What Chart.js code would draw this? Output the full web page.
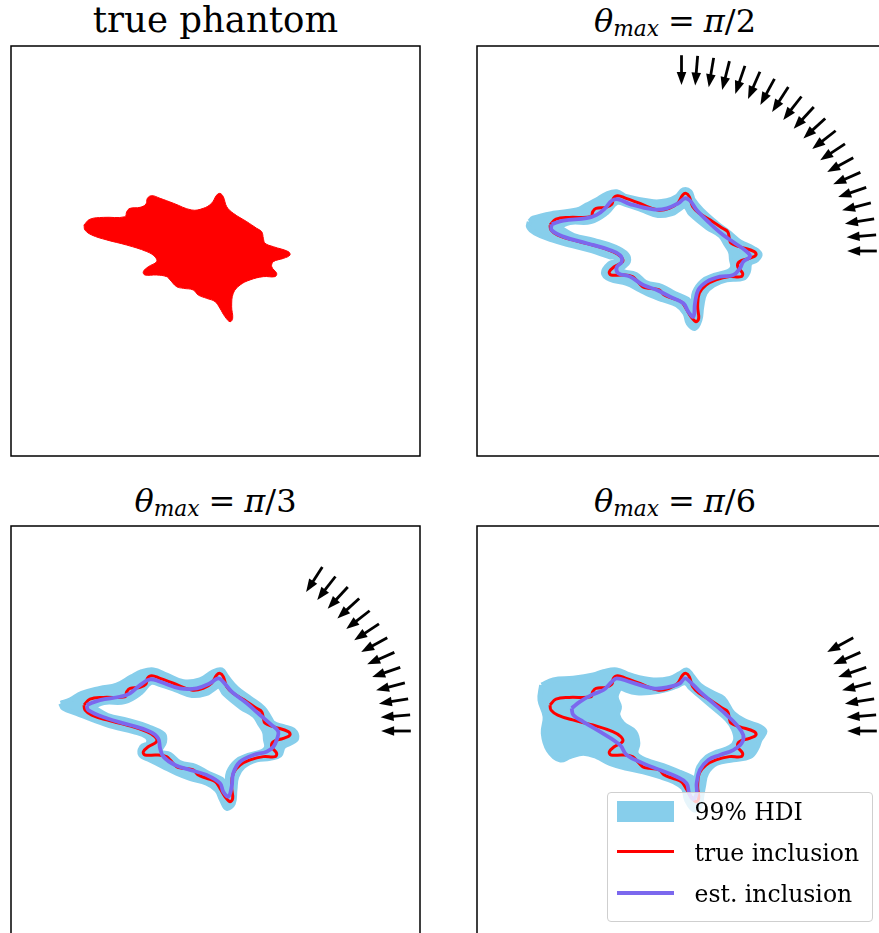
<!DOCTYPE html>
<html>
<head>
<meta charset="utf-8">
<script src="https://cdn.jsdelivr.net/npm/chart.js@4.4.1/dist/chart.umd.min.js"></script>
<style>
  html, body { margin: 0; padding: 0; background: #fff; width: 879px; height: 933px; overflow: hidden; position: relative; }
  canvas { position: absolute; }
  .title { position: absolute; width: 400px; text-align: center; font-family: "DejaVu Serif", serif; color: #000; white-space: nowrap; line-height: 40px; }
  .title.big { font-size: 35.5px; }
  .title.th { font-size: 32px; }
  .title i { font-style: italic; }
  .title .sub { font-size: 0.68em; font-style: italic; vertical-align: -0.2em; line-height: 0; }
  .title .eq { margin: 0 0.28em; }
  #legend { position: absolute; left: 607px; top: 792px; width: 266px; height: 130px; box-sizing: border-box;
            border: 1.5px solid #cfcfcf; border-radius: 4px; background: rgba(255,255,255,0.8); }
  #legend .sw { position: absolute; left: 8.5px; width: 57px; }
  #legend .lb { position: absolute; left: 86.5px; font-family: "DejaVu Serif", serif; font-size: 23.5px; line-height: 28px; color: #000; white-space: nowrap; }
</style>
</head>
<body>
<div class="title big" style="left:15.5px; top:0px;">true phantom</div>
<div class="title th" style="left:475px; top:1px;"><i>θ</i><span class="sub">max</span><span class="eq">=</span><i>π</i>/2</div>
<div class="title th" style="left:15.5px; top:481px;"><i>θ</i><span class="sub">max</span><span class="eq">=</span><i>π</i>/3</div>
<div class="title th" style="left:475px; top:481px;"><i>θ</i><span class="sub">max</span><span class="eq">=</span><i>π</i>/6</div>

<canvas id="p1" width="413" height="414" style="left:9px; top:44px;"></canvas>
<canvas id="p2" width="413" height="414" style="left:475px; top:44px;"></canvas>
<canvas id="p3" width="413" height="414" style="left:9px; top:524px;"></canvas>
<canvas id="p4" width="413" height="414" style="left:475px; top:524px;"></canvas>

<div id="legend">
  <div class="sw" style="top:7.5px; height:21px; background:#87ceeb;"></div>
  <div class="lb" style="top:5.4px;">99% HDI</div>
  <div class="sw" style="top:56.5px; height:3.4px; background:#ff0000;"></div>
  <div class="lb" style="top:45.9px;">true inclusion</div>
  <div class="sw" style="top:97.8px; height:4px; background:#7b68ee;"></div>
  <div class="lb" style="top:86.9px;">est. inclusion</div>
</div>

<script>
// True inclusion boundary (closed contour, domain [-1, 1] x [-1, 1])
const trueX = [-0.643,-0.614,-0.549,-0.443,-0.434,-0.418,-0.369,-0.340,-0.333,-0.312,-0.271,-0.206,-0.116,-0.060,-0.019,0.006,0.022,0.038,0.055,0.087,0.153,0.201,0.226,0.234,0.242,0.283,0.356,0.364,0.332,0.283,0.275,0.299,0.291,0.234,0.169,0.120,0.087,0.079,0.084,0.071,0.046,0.022,-0.002,-0.043,-0.084,-0.109,-0.157,-0.190,-0.222,-0.239,-0.288,-0.345,-0.353,-0.329,-0.288,-0.296,-0.336,-0.434,-0.532,-0.605,-0.638];
const trueY = [0.127,0.155,0.164,0.167,0.192,0.208,0.213,0.229,0.257,0.270,0.257,0.233,0.200,0.208,0.233,0.273,0.281,0.265,0.216,0.184,0.143,0.111,0.094,0.062,0.038,0.021,-0.003,-0.020,-0.036,-0.052,-0.077,-0.109,-0.125,-0.125,-0.141,-0.166,-0.206,-0.272,-0.328,-0.345,-0.320,-0.280,-0.247,-0.231,-0.215,-0.190,-0.182,-0.174,-0.141,-0.125,-0.117,-0.117,-0.101,-0.077,-0.052,-0.028,-0.003,0.029,0.054,0.078,0.102];

// theta_max = pi/2
const est2X = [-0.635,-0.578,-0.464,-0.415,-0.374,-0.341,-0.309,-0.252,-0.138,-0.072,-0.016,0.017,0.042,0.074,0.139,0.204,0.262,0.319,0.335,0.302,0.286,0.253,0.188,0.123,0.082,0.066,0.058,0.033,0.009,-0.056,-0.121,-0.187,-0.252,-0.309,-0.317,-0.292,-0.301,-0.350,-0.464,-0.578,-0.635];
const est2Y = [0.130,0.148,0.160,0.176,0.208,0.245,0.252,0.229,0.203,0.208,0.233,0.257,0.245,0.200,0.135,0.078,0.038,-0.003,-0.028,-0.052,-0.084,-0.117,-0.125,-0.150,-0.190,-0.255,-0.320,-0.296,-0.255,-0.223,-0.190,-0.166,-0.125,-0.109,-0.080,-0.052,-0.020,0.005,0.038,0.070,0.102];
const hdiOuter2X = [-0.744,-0.725,-0.627,-0.512,-0.464,-0.415,-0.366,-0.317,-0.268,-0.138,-0.072,-0.023,0.009,0.042,0.058,0.099,0.172,0.237,0.286,0.351,0.384,0.368,0.335,0.327,0.302,0.221,0.156,0.115,0.099,0.090,0.066,0.033,0.017,-0.023,-0.089,-0.154,-0.203,-0.268,-0.350,-0.382,-0.352,-0.314,-0.325,-0.350,-0.440,-0.535,-0.633,-0.716,-0.748];
const hdiOuter2Y = [0.143,0.160,0.184,0.200,0.224,0.249,0.278,0.289,0.265,0.240,0.245,0.265,0.298,0.289,0.249,0.200,0.135,0.086,0.045,0.013,-0.015,-0.044,-0.060,-0.101,-0.133,-0.141,-0.166,-0.206,-0.272,-0.337,-0.377,-0.353,-0.304,-0.263,-0.239,-0.215,-0.190,-0.158,-0.138,-0.107,-0.062,-0.047,-0.030,-0.028,0.002,0.026,0.054,0.088,0.118];
const hdiInner2X = [-0.594,-0.545,-0.443,-0.364,-0.315,-0.271,-0.198,-0.115,-0.046,-0.012,0.017,0.042,0.125,0.188,0.213,0.237,0.242,0.247,0.227,0.159,0.100,0.061,0.051,0.032,-0.032,-0.095,-0.174,-0.222,-0.291,-0.258,-0.266,-0.330,-0.428,-0.526];
const hdiInner2Y = [0.117,0.137,0.141,0.185,0.234,0.224,0.200,0.171,0.180,0.200,0.215,0.180,0.112,0.073,0.034,-0.005,-0.044,-0.078,-0.098,-0.117,-0.146,-0.200,-0.263,-0.234,-0.205,-0.171,-0.151,-0.112,-0.093,-0.054,-0.015,0.024,0.054,0.078];
const angles2 = [0, 4.74, 9.47, 14.21, 18.95, 23.68, 28.42, 33.16, 37.89, 42.63, 47.37, 52.11, 56.84, 61.58, 66.32, 71.05, 75.79, 80.53, 85.26, 90];

// theta_max = pi/3
const est3X = [-0.630,-0.565,-0.467,-0.418,-0.369,-0.320,-0.271,-0.174,-0.092,-0.027,0.014,0.038,0.079,0.153,0.218,0.275,0.307,0.299,0.283,0.250,0.185,0.120,0.087,0.079,0.063,0.038,0.022,-0.043,-0.125,-0.198,-0.255,-0.271,-0.280,-0.320,-0.418,-0.532,-0.622];
const est3Y = [0.127,0.151,0.167,0.184,0.224,0.252,0.240,0.208,0.208,0.233,0.257,0.240,0.192,0.135,0.078,0.029,-0.003,-0.044,-0.077,-0.101,-0.117,-0.150,-0.206,-0.272,-0.320,-0.296,-0.255,-0.215,-0.190,-0.166,-0.125,-0.084,-0.036,-0.003,0.029,0.062,0.102];
const hdiOuter3X = [-0.757,-0.711,-0.654,-0.565,-0.483,-0.410,-0.361,-0.304,-0.239,-0.157,-0.076,-0.011,0.030,0.055,0.104,0.169,0.234,0.267,0.283,0.332,0.380,0.397,0.364,0.332,0.315,0.267,0.201,0.136,0.104,0.095,0.087,0.055,0.030,0.006,-0.043,-0.125,-0.190,-0.255,-0.320,-0.366,-0.361,-0.329,-0.336,-0.402,-0.500,-0.598,-0.679,-0.744];
const hdiOuter3Y = [0.135,0.151,0.184,0.208,0.224,0.265,0.289,0.298,0.273,0.240,0.249,0.289,0.298,0.265,0.208,0.160,0.111,0.062,0.038,0.021,0.005,-0.036,-0.060,-0.077,-0.117,-0.133,-0.141,-0.174,-0.223,-0.288,-0.353,-0.377,-0.337,-0.288,-0.255,-0.231,-0.206,-0.174,-0.141,-0.117,-0.077,-0.060,-0.028,-0.003,0.021,0.054,0.086,0.111];
const hdiInner3X = [-0.594,-0.545,-0.443,-0.364,-0.315,-0.271,-0.198,-0.115,-0.046,-0.012,0.017,0.042,0.125,0.188,0.213,0.237,0.242,0.247,0.227,0.159,0.100,0.061,0.051,0.032,-0.032,-0.095,-0.174,-0.222,-0.267,-0.247,-0.252,-0.330,-0.428,-0.526];
const hdiInner3Y = [0.117,0.137,0.141,0.185,0.234,0.224,0.200,0.171,0.180,0.200,0.215,0.180,0.112,0.073,0.034,-0.005,-0.044,-0.078,-0.098,-0.117,-0.146,-0.200,-0.263,-0.234,-0.205,-0.171,-0.151,-0.112,-0.098,-0.054,-0.015,0.024,0.054,0.078];
const angles3 = [0, 4.74, 9.47, 14.21, 18.95, 23.68, 28.42, 33.16, 37.89, 42.63, 47.37, 52.11, 56.84];

// theta_max = pi/6
const est4X = [-0.537,-0.496,-0.439,-0.382,-0.341,-0.317,-0.252,-0.138,-0.056,-0.007,0.017,0.042,0.090,0.156,0.221,0.270,0.302,0.294,0.253,0.188,0.131,0.090,0.074,0.074,0.056,0.037,0.025,-0.023,-0.105,-0.187,-0.268,-0.301,-0.399,-0.480,-0.529];
const est4Y = [0.111,0.143,0.176,0.200,0.240,0.257,0.240,0.208,0.216,0.233,0.257,0.240,0.192,0.135,0.078,0.029,-0.020,-0.060,-0.093,-0.117,-0.141,-0.190,-0.255,-0.304,-0.332,-0.302,-0.255,-0.223,-0.190,-0.158,-0.117,-0.068,-0.003,0.045,0.078];
const hdiOuter4X = [-0.684,-0.627,-0.529,-0.431,-0.382,-0.317,-0.252,-0.138,-0.056,-0.007,0.025,0.050,0.090,0.156,0.204,0.253,0.319,0.384,0.408,0.384,0.368,0.335,0.253,0.172,0.123,0.107,0.099,0.090,0.061,0.025,0.009,-0.040,-0.105,-0.187,-0.268,-0.350,-0.415,-0.480,-0.545,-0.594,-0.651,-0.676,-0.667,-0.692];
const hdiOuter4Y = [0.224,0.249,0.257,0.273,0.289,0.298,0.273,0.249,0.257,0.281,0.298,0.273,0.224,0.184,0.160,0.086,0.045,0.021,-0.003,-0.044,-0.084,-0.125,-0.141,-0.158,-0.206,-0.272,-0.320,-0.366,-0.385,-0.337,-0.280,-0.247,-0.223,-0.199,-0.182,-0.158,-0.125,-0.109,-0.125,-0.141,-0.093,-0.011,0.070,0.151];
const hdiInner4X = [-0.301,-0.219,-0.105,-0.023,0.017,0.042,0.090,0.156,0.221,0.253,0.262,0.237,0.172,0.123,0.082,0.066,0.050,-0.007,-0.089,-0.170,-0.219,-0.211,-0.227,-0.285,-0.309,-0.301,-0.317];
const hdiInner4Y = [0.208,0.184,0.192,0.216,0.233,0.208,0.167,0.111,0.054,0.005,-0.044,-0.077,-0.101,-0.125,-0.174,-0.231,-0.223,-0.199,-0.166,-0.141,-0.109,-0.060,-0.003,0.038,0.078,0.119,0.167];
const angles4 = [0, 4.74, 9.47, 14.21, 18.95, 23.68, 28.42];

const COLORS = { hdi: '#87ceeb', truth: '#ff0000', est: '#7b68ee' };

// Closed contour as {x, y} points (first point repeated at the end)
function contour(xs, ys) {
  const p = xs.map((x, i) => ({ x: x, y: ys[i] }));
  p.push(p[0]);
  return p;
}

// Black square frame around each plotting area
const framePlugin = {
  id: 'frame',
  afterDraw(chart) {
    const { ctx, chartArea: a } = chart;
    ctx.save();
    ctx.strokeStyle = '#000';
    ctx.lineWidth = 1.5;
    ctx.strokeRect(a.left, a.top, a.right - a.left, a.bottom - a.top);
    ctx.restore();
  }
};

// Incoming wave directions, drawn as arrows pointing at the origin
const arrowPlugin = {
  id: 'arrows',
  afterDatasetsDraw(chart, args, opts) {
    const angles = opts.angles || [];
    if (!angles.length) return;
    const { ctx } = chart;
    const sx = chart.scales.x, sy = chart.scales.y;
    ctx.save();
    ctx.fillStyle = '#000';
    ctx.strokeStyle = '#000';
    ctx.lineWidth = opts.shaft;
    for (const deg of angles) {
      const t = deg * Math.PI / 180;
      const x0 = sx.getPixelForValue(opts.rTail * Math.cos(t));
      const y0 = sy.getPixelForValue(opts.rTail * Math.sin(t));
      const x1 = sx.getPixelForValue(opts.rTip * Math.cos(t));
      const y1 = sy.getPixelForValue(opts.rTip * Math.sin(t));
      const dx = x1 - x0, dy = y1 - y0, L = Math.hypot(dx, dy);
      const ux = dx / L, uy = dy / L;
      const bx = x1 - ux * opts.headLength, by = y1 - uy * opts.headLength;
      ctx.beginPath();
      ctx.moveTo(x0, y0);
      ctx.lineTo(bx + ux, by + uy);
      ctx.stroke();
      ctx.beginPath();
      ctx.moveTo(x1, y1);
      ctx.lineTo(bx - uy * opts.headHalfWidth, by + ux * opts.headHalfWidth);
      ctx.lineTo(bx + uy * opts.headHalfWidth, by - ux * opts.headHalfWidth);
      ctx.closePath();
      ctx.fill();
    }
    ctx.restore();
  }
};

function makeChart(id, datasets, angles) {
  return new Chart(document.getElementById(id), {
    type: 'line',
    data: { datasets: datasets },
    options: {
      responsive: false,
      animation: false,
      devicePixelRatio: 1,
      events: [],
      layout: { padding: 2 },
      scales: {
        x: { type: 'linear', min: -1, max: 1, display: false },
        y: { type: 'linear', min: -1, max: 1, display: false }
      },
      elements: { point: { radius: 0 } },
      plugins: {
        legend: { display: false },
        tooltip: { enabled: false },
        arrows: { angles: angles, rTail: 0.955, rTip: 0.81, headLength: 13, headHalfWidth: 4.8, shaft: 2.8 }
      }
    },
    plugins: [framePlugin, arrowPlugin]
  });
}

// The inner edge of the band gets a band-coloured border, the outer edge a wide one,
// so the credible region reads as a soft ribbon around the contours.
function reconstructionSets(outX, outY, inX, inY, estX, estY) {
  return [
    { label: 'est. inclusion', data: contour(estX, estY), borderColor: COLORS.est, borderWidth: 3.8, fill: false, tension: 0.4, order: 0 },
    { label: 'true inclusion', data: contour(trueX, trueY), borderColor: COLORS.truth, borderWidth: 3, fill: false, tension: 0.4, order: 1 },
    { label: 'HDI inner', data: contour(inX, inY), borderColor: COLORS.hdi, borderWidth: 4, backgroundColor: '#ffffff', fill: 'shape', tension: 0.4, order: 2 },
    { label: '99% HDI', data: contour(outX, outY), borderColor: COLORS.hdi, borderWidth: 5, backgroundColor: COLORS.hdi, fill: 'shape', tension: 0.4, order: 3 }
  ];
}

makeChart('p1', [
  { label: 'true phantom', data: contour(trueX, trueY), borderColor: COLORS.truth, borderWidth: 1, backgroundColor: COLORS.truth, fill: 'shape', tension: 0.4 }
], []);
makeChart('p2', reconstructionSets(hdiOuter2X, hdiOuter2Y, hdiInner2X, hdiInner2Y, est2X, est2Y), angles2);
makeChart('p3', reconstructionSets(hdiOuter3X, hdiOuter3Y, hdiInner3X, hdiInner3Y, est3X, est3Y), angles3);
makeChart('p4', reconstructionSets(hdiOuter4X, hdiOuter4Y, hdiInner4X, hdiInner4Y, est4X, est4Y), angles4);
</script>
</body>
</html>
